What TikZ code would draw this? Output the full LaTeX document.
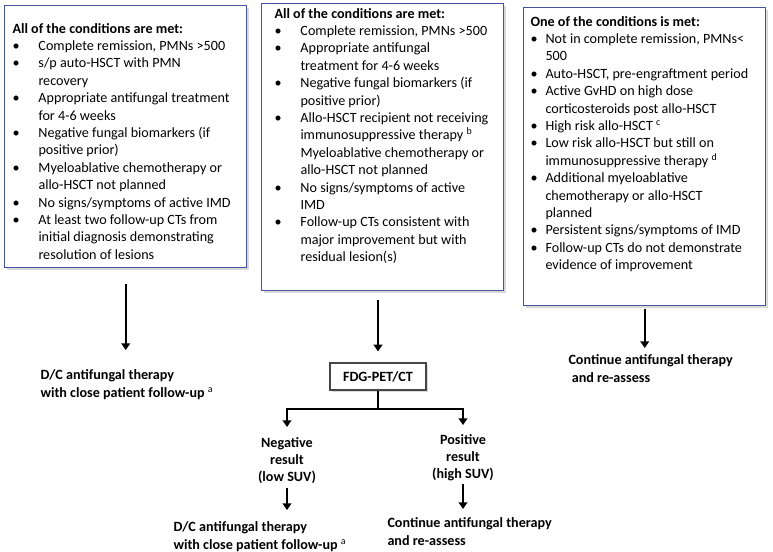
\documentclass[tikz,border=0pt]{standalone}
\usepackage{fontspec}
\setmainfont{Carlito}
\usetikzlibrary{arrows.meta,shadows}

\tikzset{every picture/.style={line width=0.75pt}}

\definecolor{boxblue}{RGB}{68,84,160}
\definecolor{fdggray}{RGB}{70,70,70}
\newcommand{\condfont}{\fontsize{10.6}{13.05}\selectfont}
\newcommand{\fnote}[1]{\textsuperscript{\mdseries #1}}

\tikzset{
  condbox/.style={draw=boxblue, line width=1.1pt, fill=white, anchor=north west, inner sep=0pt,
    drop shadow={shadow xshift=2pt, shadow yshift=-2pt, opacity=0.25, fill=black!60}},
  condtext/.style={anchor=north west, inner sep=0pt, font=\condfont},
  outcome/.style={anchor=north west, inner sep=0pt, align=left, font=\condfont\bfseries},
  result/.style={anchor=north, inner sep=0pt, align=center, font=\fontsize{10.6}{12.4}\selectfont\bfseries},
  petbox/.style={draw=fdggray, line width=0.9pt, fill=white, inner sep=0pt, minimum width=72pt, minimum height=20.25pt,
    font=\condfont\bfseries, drop shadow={shadow xshift=1.6pt, shadow yshift=-1.6pt, opacity=0.25, fill=black!60}},
  flow/.style={line width=1.6pt, -{Triangle[width=6.5pt,length=5pt]}},
}

\begin{document}
\begin{tikzpicture}[x=0.75pt,y=0.75pt,yscale=-1,xscale=1]
\useasboundingbox (0,0) rectangle (773,551);

%Shape: Rectangle [box1]
\node[condbox, minimum width=181.5pt, minimum height=196.5pt] (box1) at (4,5) {};
%Shape: Rectangle [box2]
\node[condbox, minimum width=181.5pt, minimum height=215.25pt] (box2) at (261,3) {};
%Shape: Rectangle [box3]
\node[condbox, minimum width=181.5pt, minimum height=223.5pt] (box3) at (523,7) {};

% Text Node
\node[condtext] (txt1) at (12,20.5) {\begin{tabular}{@{}p{19.5pt}@{}l@{}}
\multicolumn{2}{@{}l@{}}{\textbf{All of the conditions are met:}}\\
\textbullet & Complete remission, PMNs >500\\
\textbullet & s/p auto-HSCT with PMN\\
 & recovery\\
\textbullet & Appropriate antifungal treatment\\
 & for 4-6 weeks\\
\textbullet & Negative fungal biomarkers (if\\
 & positive prior)\\
\textbullet & Myeloablative chemotherapy or\\
 & allo-HSCT not planned\\
\textbullet & No signs/symptoms of active IMD\\
\textbullet & At least two follow-up CTs from\\
 & initial diagnosis demonstrating\\
 & resolution of lesions
\end{tabular}};
% Text Node
\node[condtext] (txt2) at (274,5.5) {\begin{tabular}{@{}p{19.5pt}@{}l@{}}
\multicolumn{2}{@{}l@{}}{\textbf{All of the conditions are met:}}\\
\textbullet & Complete remission, PMNs >500\\
\textbullet & Appropriate antifungal\\
 & treatment for 4-6 weeks\\
\textbullet & Negative fungal biomarkers (if\\
 & positive prior)\\
\textbullet & Allo-HSCT recipient not receiving\\
 & immunosuppressive therapy \fnote{b}\\
 & Myeloablative chemotherapy or\\
 & allo-HSCT not planned\\
\textbullet & No signs/symptoms of active\\
 & IMD\\
\textbullet & Follow-up CTs consistent with\\
 & major improvement but with\\
 & residual lesion(s)
\end{tabular}};
% Text Node
\node[condtext] (txt3) at (530,13.5) {\begin{tabular}{@{}p{11.25pt}@{}l@{}}
\multicolumn{2}{@{}l@{}}{\textbf{One of the conditions is met:}}\\
\textbullet & Not in complete remission, PMNs<\\
 & 500\\
\textbullet & Auto-HSCT, pre-engraftment period\\
\textbullet & Active GvHD on high dose\\
 & corticosteroids post allo-HSCT\\
\textbullet & High risk allo-HSCT \fnote{c}\\
\textbullet & Low risk allo-HSCT but still on\\
 & immunosuppressive therapy \fnote{d}\\
\textbullet & Additional myeloablative\\
 & chemotherapy or allo-HSCT\\
 & planned\\
\textbullet & Persistent signs/symptoms of IMD\\
\textbullet & Follow-up CTs do not demonstrate\\
 & evidence of improvement
\end{tabular}};

% Text Node
\node[outcome] (stop1) at (40,369.5) {D/C antifungal therapy\\with close patient follow-up \fnote{a}};
% Text Node
\node[outcome] (cont3) at (568,354.5) {Continue antifungal therapy\\\hspace*{2.5pt}and re-assess};
%Shape: Rectangle [pet]
\node[petbox] (pet) at (378,376.5) {FDG-PET/CT};
% Text Node
\node[result] (neg) at (287,437.5) {Negative\\result\\(low SUV)};
% Text Node
\node[result] (pos) at (463,434.5) {Positive\\result\\(high SUV)};
% Text Node
\node[outcome] (stop2) at (173,521.5) {D/C antifungal therapy\\with close patient follow-up \fnote{a}};
% Text Node
\node[outcome] (cont2) at (387,517.5) {Continue antifungal therapy\\and re-assess};

\coordinate (fork) at ([yshift=13.5pt]pet.south);

%Straight Lines
\draw[flow, shorten <=12pt, shorten >=14.6pt] (box1.south) -- (box1.south |- stop1.north);
\draw[flow, shorten <=6.75pt, shorten >=8.25pt] (pet.north |- box2.south) -- (pet.north);
\draw[flow, shorten <=2.25pt, shorten >=4.9pt] (box3.south) -- (box3.south |- cont3.north);
\draw[flow, shorten >=7.9pt] (pet.south) -- (fork) -| (neg.north);
\draw[flow, shorten >=7.1pt] (fork) -| (pos.north);
\draw[flow, shorten <=3.4pt, shorten >=8.6pt] (neg.south) -- (neg.south |- stop2.north);
\draw[flow, shorten <=2pt, shorten >=6.4pt] (pos.south) -- (pos.south |- cont2.north);

\end{tikzpicture}
\end{document}
